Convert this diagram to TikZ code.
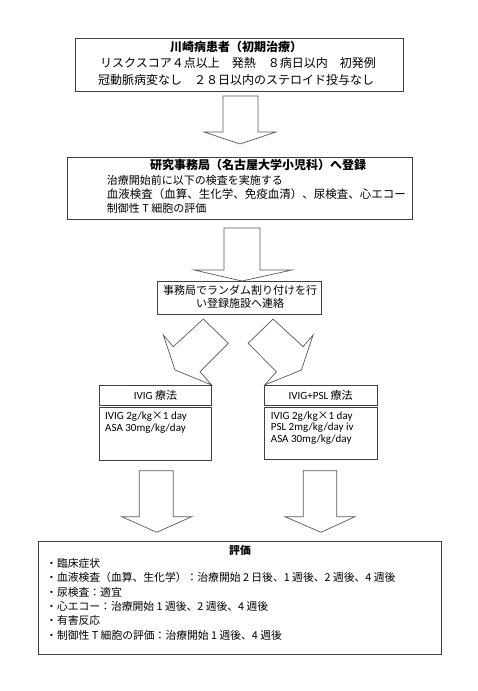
\documentclass[tikz,border=0pt]{standalone}
\usepackage{fontspec}
\setmainfont{Noto Sans CJK JP}
\newfontfamily\lat{Carlito}
\newfontfamily\jpf{Noto Sans CJK JP}
\begin{document}
\begin{tikzpicture}[x=1pt,y=-1pt,
  box/.style={draw=black!75, line width=0.8pt, inner sep=0pt},
  blk/.style={draw=black!65, line width=0.7pt, line join=miter, fill=white},
  txt/.style={inner sep=0pt, align=center},
  ltxt/.style={inner sep=0pt, anchor=west},
  f12/.style={font=\fontsize{12}{14}\selectfont},
  f12b/.style={font=\bfseries\fontsize{12}{14}\selectfont},
  f11/.style={font=\fontsize{11}{13}\selectfont},
  f11w/.style={font=\fontsize{11.5}{13}\selectfont},
  fl/.style={font=\lat\fontsize{11}{13}\selectfont},
  f10/.style={font=\fontsize{10.8}{12}\selectfont},
  f10b/.style={font=\bfseries\fontsize{10.8}{12}\selectfont},
]
\useasboundingbox (0,0) rectangle (478,691);
% boxes
\node[box, minimum width=328pt, minimum height=53pt] (b1) at (239,64.5) {};
\node[box, minimum width=345pt, minimum height=62pt] (b2) at (239.5,188) {};
\node[box, minimum width=164pt, minimum height=33pt] (b3) at (239,297.5) {};
\node[box, minimum width=112.4pt, minimum height=20pt] (h1) at (155.5,395) {};
\node[box, minimum width=112.4pt, minimum height=52.7pt] (d1) at (155.5,433.65) {};
\node[box, minimum width=113.3pt, minimum height=20pt] (h2) at (320.65,395) {};
\node[box, minimum width=113.3pt, minimum height=52pt] (d2) at (320.65,433.3) {};
\node[box, minimum width=403pt, minimum height=113pt] (b4) at (239.8,597.5) {};
% block arrows
\draw[blk] (223,96) -- (258,96) -- (258,132) -- (276,132) -- (240,144) -- (204,132) -- (223,132) -- cycle;
\draw[blk] (224,228) -- (260,228) -- (260,270) -- (292,270) -- (242,281) -- (194,270) -- (224,270) -- cycle;
\draw[blk] (203.3,319) -- (228.3,343.3) -- (200,371.7) -- (211.7,385) -- (175,370) -- (163.3,335) -- (173.3,346.7) -- cycle;
\draw[blk] (273.1,319) -- (248.1,343.3) -- (276.4,371.7) -- (264.7,385) -- (301.4,370) -- (313.1,335) -- (303.1,346.7) -- cycle;
\draw[blk] (139.3,470.7) -- (173.3,470.7) -- (173.3,516.7) -- (191.7,516.7) -- (156.7,532.3) -- (121.7,516.7) -- (139.3,516.7) -- cycle;
\draw[blk] (303.3,470.7) -- (336.7,470.7) -- (336.7,516.7) -- (355,516.7) -- (321,532.3) -- (285,516.7) -- (303.3,516.7) -- cycle;
% box 1 text
\node[txt, f12b] (t1a) at (236,46.5) {川崎病患者（初期治療）};
\node[txt, f12] (t1b) at (238,63.3) {リスクスコア４点以上　発熱　８病日以内　初発例};
\node[txt, f12] (t1c) at (236,80) {冠動脈病変なし　２８日以内のステロイド投与なし};
% box 2 text
\node[txt, f12b] (t2a) at (258,165) {研究事務局（名古屋大学小児科）へ登録};
\node[ltxt, f11] (t2b) at (106.7,180) {治療開始前に以下の検査を実施する};
\node[ltxt, f11w] (t2c) at (106.7,194) {血液検査（血算、生化学、免疫血清）、尿検査、心エコー};
\node[ltxt, f11] (t2d) at (106.7,208) {制御性 T 細胞の評価};
% box 3 text
\node[txt, f11] (t3a) at (240,290) {事務局でランダム割り付けを行};
\node[txt, f11] (t3b) at (240,303) {い登録施設へ連絡};
% treatment headers
\node[txt, fl] (h1t) at (155.5,395) {IVIG {\jpf 療法}};
\node[txt, fl] (h2t) at (320.65,395) {IVIG+PSL {\jpf 療法}};
% treatment bodies
\node[ltxt, fl] (d1a) at (105,416.7) {IVIG 2g/kg{\jpf ×}1 day};
\node[ltxt, fl] (d1b) at (105,428.5) {ASA 30mg/kg/day};
\node[ltxt, fl] (d2a) at (270.7,416.7) {IVIG 2g/kg{\jpf ×}1 day};
\node[ltxt, fl] (d2b) at (270.7,428) {PSL 2mg/kg/day iv};
\node[ltxt, fl] (d2c) at (270.7,439.3) {ASA 30mg/kg/day};
% evaluation
\node[txt, f10b] (t4a) at (240,550) {評価};
\node[ltxt, f10] (t4b) at (46,563.5) {・臨床症状};
\node[ltxt, f10] (t4c) at (46,577.8) {・血液検査（血算、生化学）：治療開始 2 日後、1 週後、2 週後、4 週後};
\node[ltxt, f10] (t4d) at (46,592.1) {・尿検査：適宜};
\node[ltxt, f10] (t4e) at (46,606.4) {・心エコー：治療開始 1 週後、2 週後、4 週後};
\node[ltxt, f10] (t4f) at (46,620.7) {・有害反応};
\node[ltxt, f10] (t4g) at (46,635) {・制御性 T 細胞の評価：治療開始 1 週後、4 週後};
\end{tikzpicture}
\end{document}
